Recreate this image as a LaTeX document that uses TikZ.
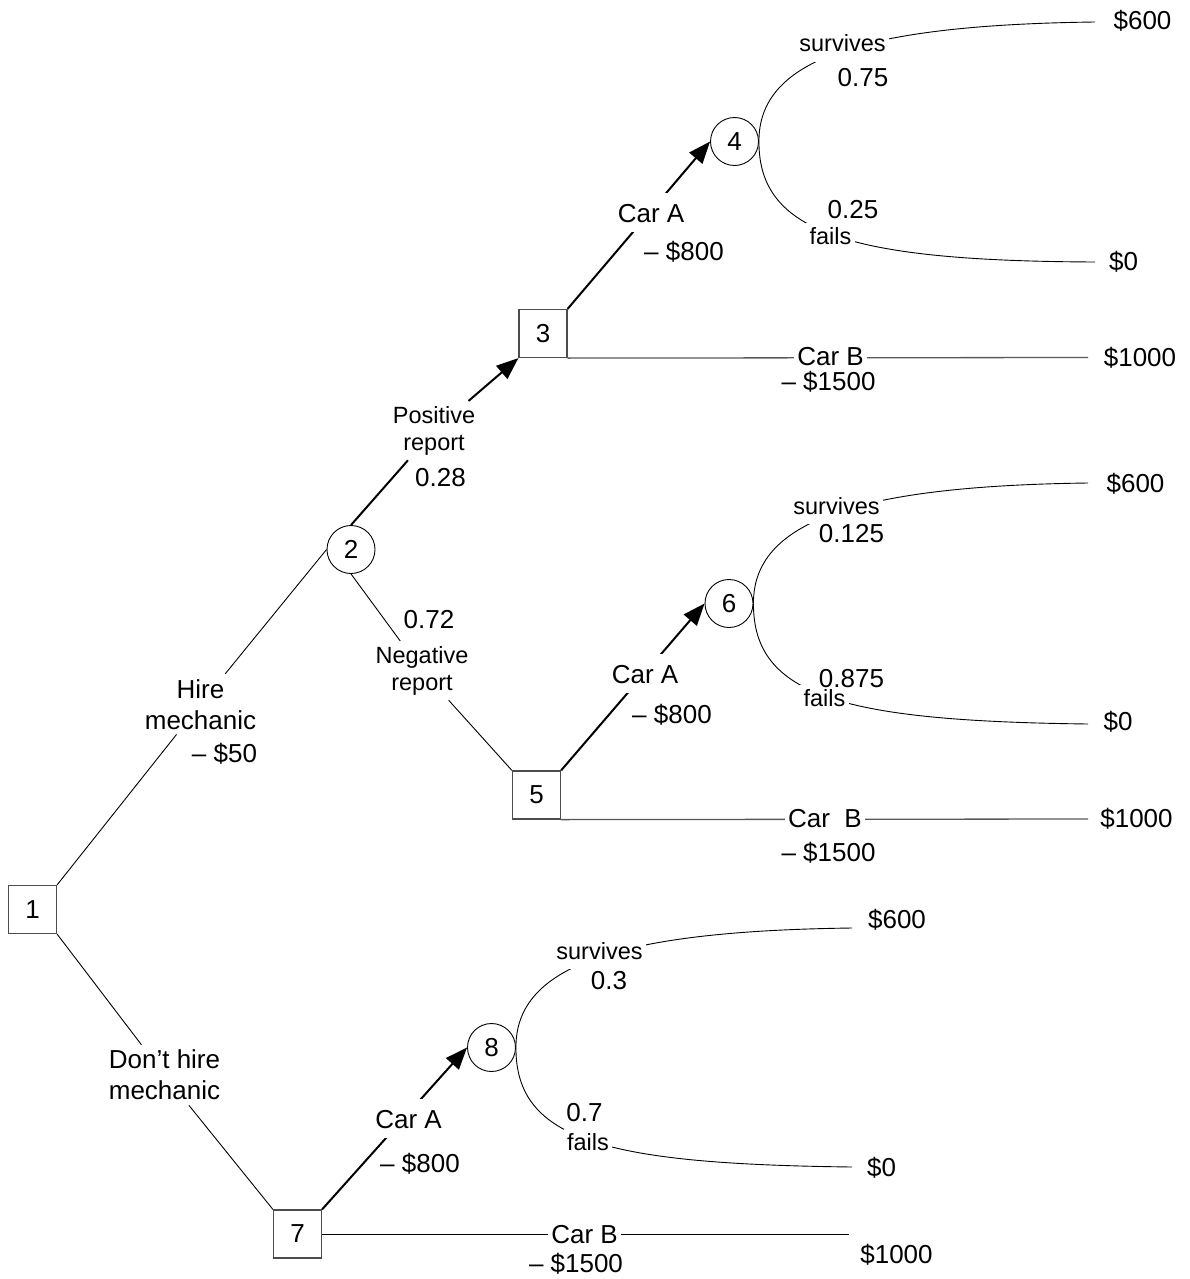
\documentclass[tikz,border=0pt]{standalone}
\usepackage{fontspec}
\setmainfont{Liberation Sans}
\usetikzlibrary{arrows.meta}
\newcommand\fbig{\fontsize{26}{31}\selectfont}
\newcommand\fsml{\fontsize{23.5}{27}\selectfont}
\begin{document}
\begin{tikzpicture}[x=1pt,y=-1pt,
  dec/.style={draw=black!70, line width=1.2pt, minimum size=48pt, inner sep=0pt, font=\fbig},
  chance/.style={circle, draw=black, line width=0.9pt, minimum size=48pt, inner sep=0pt, font=\fbig},
  ln/.style={line width=0.9pt},
  lnB/.style={line width=1.3pt, draw=black!65},
  arr/.style={line width=2pt, -{Triangle[length=22pt,width=17pt]}},
  txt/.style={anchor=base, inner sep=0pt, font=\fbig},
  stxt/.style={anchor=base, inner sep=0pt, font=\fsml},
  carlab/.style={anchor=base, fill=white, font=\fbig, inner xsep=3pt, inner ysep=5pt, text height=24pt, text depth=5pt},
  evlab/.style={anchor=base, fill=white, font=\fsml, inner xsep=3.5pt, inner ysep=4pt, text height=17pt, text depth=6pt},
  mlab/.style={fill=white, align=center, inner xsep=3pt, inner ysep=5pt}]
\useasboundingbox (0,0) rectangle (1189,1279);

% decision and chance nodes
\node[dec] (b1) at (32.5,909.5) {1};
\node[dec] (b3) at (543,333.5) {3};
\node[dec] (b5) at (536.5,795) {5};
\node[dec] (b7) at (297.5,1234) {7};
\node[chance] (c2) at (351,549.5) {2};
\node[chance] (c4) at (734.5,141.5) {4};
\node[chance] (c6) at (729,603.5) {6};
\node[chance] (c8) at (491.5,1047.5) {8};

% end points
\coordinate (e4a) at (1095,22);
\coordinate (e4b) at (1095,262);
\coordinate (e3) at (1088,357.5);
\coordinate (e6a) at (1088,483);
\coordinate (e6b) at (1088,724);
\coordinate (e5) at (1088,819);
\coordinate (e8a) at (852,928);
\coordinate (e8b) at (852,1167);
\coordinate (e7) at (849,1234);

% labels through which branches are routed
\node[mlab, font=\fbig] (hire) at (200.5,704.2) {Hire\\mechanic};
\node[mlab, font=\fbig] (dont) at (164.5,1075) {Don’t hire\\mechanic};
\node[mlab, font=\fsml] (pos) at (434,430.6) {Positive\\report};
\node[mlab, font=\fsml] (neg) at (422,670.6) {Negative\\report};

% branches
\draw[ln] (b1.north east) -- (hire) -- (c2.west);
\draw[ln] (b1.south east) -- (dont) -- (b7.north west);
\draw[arr] (c2.north) -- (pos) -- (b3.south west);
\draw[ln] (c2.south) -- (neg) -- (b5.north west);

\draw[arr] (b3.north east) -- (c4.west);
\draw[arr] (b5.north east) -- (c6.west);
\draw[arr] (b7.north east) -- (c8.west);

\draw[lnB] (b3.south east) -- (e3);
\draw[lnB] (b5.south east) -- (e5);
\draw[ln] (b7.east) -- (e7);

\draw[ln] (c4.east) .. controls (758.5,60) and (860,25) .. (e4a);
\draw[ln] (c4.east) .. controls (758.5,233) and (850,261) .. (e4b);
\draw[ln] (c6.east) .. controls (753,522) and (855,486) .. (e6a);
\draw[ln] (c6.east) .. controls (753,697) and (845,721) .. (e6b);
\draw[ln] (c8.east) .. controls (515.5,966) and (617,931) .. (e8a);
\draw[ln] (c8.east) .. controls (515.5,1141) and (607,1164) .. (e8b);

% labels lying on branches
\node[carlab] (ca3) at (651,222) {Car A};
\node[carlab] (ca5) at (645,683) {Car A};
\node[carlab] (ca7) at (408.5,1128) {Car A};
\node[carlab] (cb3) at (830.5,365) {Car B};
\node[carlab] (cb5) at (825,827) {Car\ \ B};
\node[carlab] (cb7) at (584.5,1243) {Car B};

\node[evlab] (s4) at (842.5,52) {survives};
\node[evlab] (f4) at (830.5,244) {fails};
\node[evlab] (s6) at (836.5,514) {survives};
\node[evlab] (f6) at (824.5,706) {fails};
\node[evlab] (s8) at (599.5,959) {survives};
\node[evlab] (f8) at (588,1150) {fails};

% costs and probabilities
\node[txt] (k50) at (224.5,762) {– \$50};
\node[txt] (p28) at (440.5,486) {0.28};
\node[txt] (p72) at (429,628) {0.72};
\node[txt] (k8a) at (684,260) {– \$800};
\node[txt] (k8b) at (672,723) {– \$800};
\node[txt] (k8c) at (420,1172) {– \$800};
\node[txt] (k15a) at (828.5,390) {– \$1500};
\node[txt] (k15b) at (828.5,861) {– \$1500};
\node[txt] (k15c) at (576,1272) {– \$1500};
\node[txt] (p75) at (863,87) {0.75};
\node[txt] (p25) at (853,218) {0.25};
\node[txt] (p125) at (851.5,542) {0.125};
\node[txt] (p875) at (851.5,687) {0.875};
\node[txt] (p3) at (609,989) {0.3};
\node[txt] (p7) at (584.5,1121) {0.7};

% payoffs
\node[txt] (v4a) at (1142.5,30) {\$600};
\node[txt] (v4b) at (1123.5,270) {\$0};
\node[txt] (v3) at (1140,366) {\$1000};
\node[txt] (v6a) at (1135.5,492) {\$600};
\node[txt] (v6b) at (1118,730) {\$0};
\node[txt] (v5) at (1136.5,827) {\$1000};
\node[txt] (v8a) at (897,928) {\$600};
\node[txt] (v8b) at (881.5,1176) {\$0};
\node[txt] (v7) at (896.5,1263) {\$1000};
\end{tikzpicture}
\end{document}
